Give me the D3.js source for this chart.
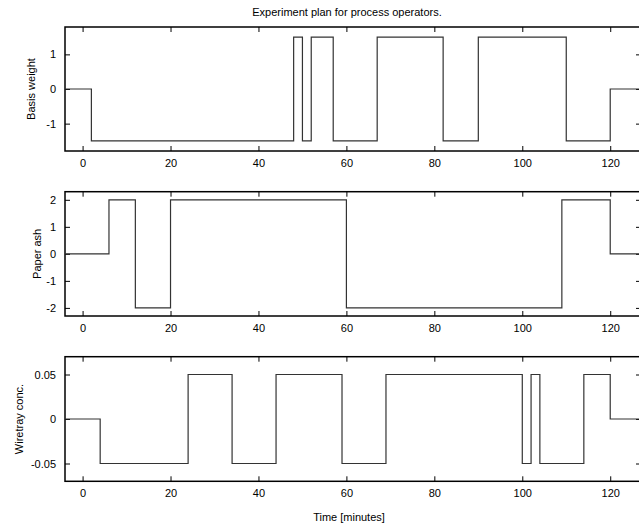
<!DOCTYPE html>
<html>
<head>
<meta charset="utf-8">
<script src="https://cdn.jsdelivr.net/npm/d3@7"></script>
<style>
  body { margin: 0; background: #fff; }
  text { font-family: "Liberation Sans", Arial, sans-serif; fill: #000; }
</style>
</head>
<body>
<script>
// step change times (minutes) and levels for each input
basisTimes = [-4, 2, 48, 50, 52, 57, 67, 82, 90, 110, 120, 130]
basisLevels = [0, -1.5, 1.5, -1.5, 1.5, -1.5, 1.5, -1.5, 1.5, -1.5, 0, 0]

ashTimes = [-4, 6, 12, 20, 60, 109, 120, 130]
ashLevels = [0, 2, -2, 2, -2, 2, 0, 0]

wireTimes = [-4, 4, 24, 34, 44, 59, 69, 100, 102, 104, 114, 120, 130]
wireLevels = [0, -0.05, 0.05, -0.05, 0.05, -0.05, 0.05, -0.05, 0.05, -0.05, 0.05, 0, 0]

xTicks = [0, 20, 40, 60, 80, 100, 120]

// plain hyphen for negatives, like the original plot
function plain(d) {
  return String(d)
}

panels = [
  {label: "Basis weight", times: basisTimes, levels: basisLevels, ylim: [-1.79, 1.79], ticks: [-1, 0, 1]},
  {label: "Paper ash", times: ashTimes, levels: ashLevels, ylim: [-2.3, 2.3], ticks: [-2, -1, 0, 1, 2]},
  {label: "Wiretray conc.", times: wireTimes, levels: wireLevels, ylim: [-0.07, 0.07], ticks: [-0.05, 0, 0.05]}
]

width = 639
height = 529
left = 65
right = 641
tops = [27, 191.7, 356.7]
bottoms = [151, 316, 481.3]

svg = d3.select("body").append("svg")
  .attr("width", width)
  .attr("height", height)

x = d3.scaleLinear().domain([-4, 127]).range([left, right])

svg.append("text")
  .attr("x", 347)
  .attr("y", 16)
  .attr("text-anchor", "middle")
  .attr("font-size", 11)
  .text("Experiment plan for process operators.")

panels.forEach((p, k) => {
  const y = d3.scaleLinear().domain(p.ylim).range([bottoms[k], tops[k]])
  const g = svg.append("g")

  g.append("clipPath").attr("id", "clip" + k)
    .append("rect")
    .attr("x", left).attr("y", tops[k])
    .attr("width", right - left).attr("height", bottoms[k] - tops[k])

  // frame
  g.append("rect")
    .attr("x", left).attr("y", tops[k])
    .attr("width", right - left).attr("height", bottoms[k] - tops[k])
    .attr("fill", "none").attr("stroke", "#000").attr("stroke-width", 1.5)

  // bottom axis with inward ticks
  g.append("g")
    .attr("transform", `translate(0,${bottoms[k]})`)
    .call(d3.axisBottom(x).tickValues(xTicks).tickFormat(plain).tickSizeInner(-5).tickSizeOuter(0).tickPadding(8))
    .call(a => a.select(".domain").remove())
    .call(a => a.selectAll("text").attr("font-size", 11).attr("font-family", "Liberation Sans, Arial, sans-serif"))

  g.append("g")
    .attr("transform", `translate(0,${tops[k]})`)
    .call(d3.axisTop(x).tickValues(xTicks).tickSizeInner(-5).tickSizeOuter(0).tickFormat(""))
    .call(a => a.select(".domain").remove())

  g.append("g")
    .attr("transform", `translate(${left},0)`)
    .call(d3.axisLeft(y).tickValues(p.ticks).tickFormat(plain).tickSizeInner(-5).tickSizeOuter(0).tickPadding(9))
    .call(a => a.select(".domain").remove())
    .call(a => a.selectAll("text").attr("font-size", 11).attr("font-family", "Liberation Sans, Arial, sans-serif"))

  g.append("g")
    .attr("transform", `translate(${right},0)`)
    .call(d3.axisRight(y).tickValues(p.ticks).tickSizeInner(-5).tickSizeOuter(0).tickFormat(""))
    .call(a => a.select(".domain").remove())

  const pts = p.times.map((t, i) => [t, p.levels[i]])
  g.append("path")
    .datum(pts)
    .attr("clip-path", `url(#clip${k})`)
    .attr("fill", "none")
    .attr("stroke", "#333")
    .attr("stroke-width", 1.2)
    .attr("d", d3.line().x(d => x(d[0])).y(d => y(d[1])).curve(d3.curveStepAfter))

  // y label, placed next to the widest tick label
  const labX = k == 2 ? 20 : (k == 0 ? 32 : 38)
  g.append("text")
    .attr("transform", `translate(${labX},${(tops[k] + bottoms[k]) / 2}) rotate(-90)`)
    .attr("text-anchor", "middle")
    .attr("dominant-baseline", "middle")
    .attr("font-size", 11)
    .text(p.label)
})

svg.append("text")
  .attr("x", 349)
  .attr("y", 521)
  .attr("text-anchor", "middle")
  .attr("font-size", 11)
  .text("Time [minutes]")
</script>
</body>
</html>
